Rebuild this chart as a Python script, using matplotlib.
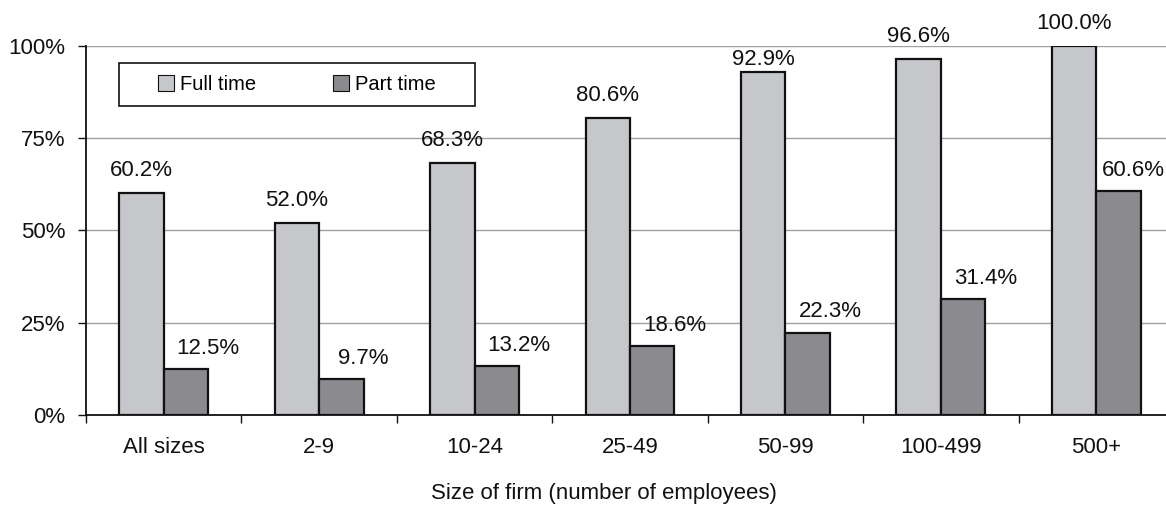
import matplotlib
matplotlib.use("Agg")
import matplotlib.pyplot as plt
from matplotlib.patches import Rectangle
import numpy as np

categories = ["All sizes", "2-9", "10-24", "25-49", "50-99", "100-499", "500+"]
full_time = [60.2, 52.0, 68.3, 80.6, 92.9, 96.6, 100.0]
part_time = [12.5, 9.7, 13.2, 18.6, 22.3, 31.4, 60.6]
yticks = [0, 25, 50, 75, 100]
ytick_labels = ["0%", "25%", "50%", "75%", "100%"]

plt.rcParams['font.family'] = ['Liberation Sans', 'DejaVu Sans']

W, H = 1166, 507
AX_L, AX_R, AX_B, AX_T = 86, 1174, 415, 46
fig = plt.figure(figsize=(W/100, H/100), dpi=100)
ax = fig.add_axes([AX_L/W, 1-AX_B/H, (AX_R-AX_L)/W, (AX_B-AX_T)/H])
axw, axh = AX_R-AX_L, AX_B-AX_T

x = np.arange(len(categories))
w = 0.286
full_color = "#c6c7cb"
part_color = "#8b8a8f"

ax.bar(x - w/2, full_time, w, color=full_color, edgecolor="#111111", linewidth=1.6, label="Full time", zorder=3)
ax.bar(x + w/2, part_time, w, color=part_color, edgecolor="#111111", linewidth=1.6, label="Part time", zorder=3)

fs = 16
full_label_offsets = [16, 16, 16, 16, 9, 16, 16]
for xi, v, off in zip(x, full_time, full_label_offsets):
    ax.annotate(f"{v:.1f}%", (xi - w/2, v), xytext=(0, off), textcoords="offset points",
                ha="center", va="center", fontsize=fs, color="#111111", annotation_clip=False)
part_label_dx = [0, 0, 0, 0, 0, 0, -5]
for xi, v, dx in zip(x, part_time, part_label_dx):
    ax.annotate(f"{v:.1f}%", (xi + w, v), xytext=(dx, 15), textcoords="offset points",
                ha="center", va="center", fontsize=fs, color="#111111", annotation_clip=False)

ax.set_xlim(-0.5, len(categories) - 0.5)
ax.set_ylim(0, 100)

ax.set_yticks(yticks)
ax.set_yticklabels(ytick_labels, fontsize=fs)
ax.tick_params(axis="y", direction="out", length=6, width=1, pad=9, colors="#111111")

ax.set_xticks(np.arange(len(categories) + 1) - 0.5)
ax.set_xticklabels([])
ax.set_xticks(x, minor=True)
ax.set_xticklabels(categories, minor=True, fontsize=fs)
ax.tick_params(axis="x", which="major", direction="out", length=6, width=1, colors="#111111")
ax.tick_params(axis="x", which="minor", length=0, pad=16, colors="#111111")

ax.grid(axis="y", color="#a0a0a0", linewidth=1, zorder=0)
ax.set_axisbelow(True)
for s in ["top", "right"]:
    ax.spines[s].set_visible(False)
for s in ["left", "bottom"]:
    ax.spines[s].set_color("#111111")
    ax.spines[s].set_linewidth(1.3)

# legend box
bx0, bx1, by0, by1 = 119, 475, 63, 106
ax.add_patch(Rectangle(((bx0-AX_L)/axw, (AX_B-by1)/axh), (bx1-bx0)/axw, (by1-by0)/axh,
                       transform=ax.transAxes, facecolor="white", edgecolor="#111111",
                       linewidth=1.2, zorder=5, clip_on=False))
leg = ax.legend(ncol=2, loc="center",
                bbox_to_anchor=(((bx0+bx1)/2-AX_L)/axw, (AX_B-(by0+by1)/2)/axh),
                fontsize=14.5, frameon=False, handlelength=0.8, handleheight=0.8,
                handletextpad=0.3, columnspacing=3.8, borderpad=0)
leg.set_zorder(6)
for h in leg.legend_handles:
    h.set_linewidth(0.8)

fig.text(604/W, 1-493/H, "Size of firm (number of employees)", ha="center", va="center",
         fontsize=fs, color="#111111")

fig.savefig("out.png", dpi=100)
